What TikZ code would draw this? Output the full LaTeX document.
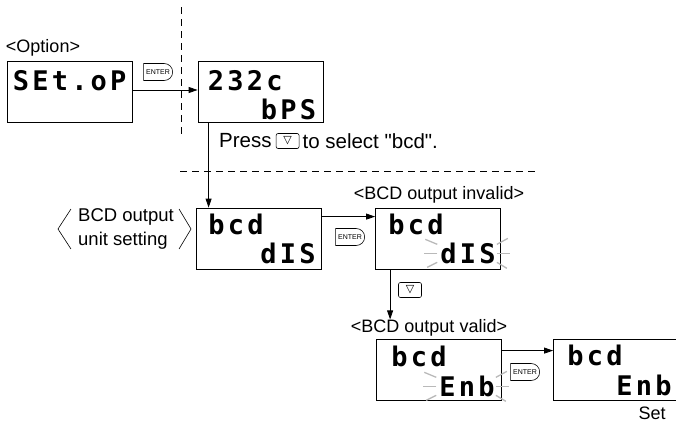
\documentclass[tikz,border=0pt]{standalone}
\usepackage{fontspec}
\setmainfont{Liberation Sans}
\newfontfamily\segfont{DejaVu Sans Mono}[LetterSpace=12]
\newfontfamily\symfont{DejaVu Sans}
\usetikzlibrary{shapes.misc, arrows.meta, positioning, calc}

\begin{document}
\begin{tikzpicture}[x=1pt, y=-1pt,
    display/.style={rectangle, draw, line width=0.8pt, minimum width=125pt, minimum height=61pt, inner sep=0pt},
    seg/.style={font=\segfont\bfseries\fontsize{27}{27}\selectfont, inner sep=0pt},
    label/.style={font=\fontsize{18}{21}\selectfont, inner sep=0pt},
    enterkey/.style={rounded rectangle, rounded rectangle west arc=none, draw, line width=0.6pt, minimum width=31pt, minimum height=17pt, inner sep=1pt, font=\fontsize{7}{7}\selectfont},
    downkey/.style={rectangle, draw, line width=0.6pt, rounded corners=2pt, minimum width=23pt, minimum height=15pt, inner sep=0pt, font=\symfont\fontsize{11}{11}\selectfont},
    arrow/.style={-{Triangle[length=9pt, width=6pt]}, line width=0.8pt},
    ray/.style={gray!55, line width=1.3pt},
    sep/.style={line width=0.7pt, dash pattern=on 7pt off 5pt}
]
\useasboundingbox (0,0) rectangle (676,423);

% Displays
\node[display] (setop) at (69.5,91.5) {};
\node[display] (baud) at (260.5,91.5) {};
\node[display] (bcddis) at (259,238.5) {};
\node[display] (bcdinv) at (438,238.5) {};
\node[display] (bcdval) at (439,369.5) {};
\node[display] (bcdset) at (616,369.5) {};

% Display texts
\node[seg, anchor=base west] (setop-hi) at ([shift={(6,30)}]setop.north west) {SEt.oP};
\node[seg, anchor=base west] (baud-hi) at ([shift={(10,30)}]baud.north west) {232c};
\node[seg, anchor=base east] (baud-lo) at ([shift={(-7,-3)}]baud.south east) {bPS};
\node[seg, anchor=base west] (dis-hi) at ([shift={(12,27)}]bcddis.north west) {bcd};
\node[seg, anchor=base east] (dis-lo) at ([shift={(-6,-6)}]bcddis.south east) {dIS};
\node[seg, anchor=base west] (inv-hi) at ([shift={(13,27)}]bcdinv.north west) {bcd};
\node[seg, anchor=base east] (inv-lo) at ([shift={(-5,-6)}]bcdinv.south east) {dIS};
\node[seg, anchor=base west] (val-hi) at ([shift={(15,28)}]bcdval.north west) {bcd};
\node[seg, anchor=base east] (val-lo) at ([shift={(-7,-4)}]bcdval.south east) {Enb};
\node[seg, anchor=base west] (set-hi) at ([shift={(14,27)}]bcdset.north west) {bcd};
\node[seg, anchor=base east] (set-lo) at ([shift={(-7,-5)}]bcdset.south east) {Enb};

% Blinking
\foreach \r in {inv-lo, val-lo} {
  \draw[ray] ([shift={(-3,-9)}]\r.west) -- ++(-12,-5);
  \draw[ray] ([shift={(-3,0)}]\r.west) -- ++(-13,0);
  \draw[ray] ([shift={(-3,9)}]\r.west) -- ++(-10,5);
  \draw[ray] ([shift={(1,-9)}]\r.east) -- ++(11,-6);
  \draw[ray] ([shift={(1,0)}]\r.east) -- ++(13,0);
  \draw[ray] ([shift={(1,9)}]\r.east) -- ++(10,6);
}

% Labels
\node[label] (option) at (43,48) {<Option>};
\node[label] (invalid) at (439,195) {<BCD output invalid>};
\node[label] (valid) at (429,328) {<BCD output valid>};
\node[label] (set) at (652,413) {Set};
\node[label, align=left, font=\fontsize{18.5}{24}\selectfont] (unit) at (126,229) {BCD output\\unit setting};
\draw[line width=0.6pt] ($(unit.west)+(-7,-20)$) -- ++(-13,20) -- ++(13,20);
\draw[line width=0.6pt] ($(unit.east)+(5,-20)$) -- ++(12,20) -- ++(-12,20);

\node[label, font=\fontsize{20.5}{23}\selectfont, anchor=west] (press) at (219,141) {Press};
\node[downkey, right=4pt of press] (presskey) {▽};
\node[label, font=\fontsize{20.5}{23}\selectfont, right=3pt of presskey] (select) {to select \textquotedbl bcd\textquotedbl.};

% Keys
\node[enterkey] (enter1) at (158,72) {ENTER};
\node[enterkey] (enter2) at (350,237) {ENTER};
\node[enterkey] (enter3) at (525,372) {ENTER};
\node[downkey] (down1) at (410,290) {▽};

% Separators
\draw[sep] (181,7) -- (181,137);
\draw[sep] (180,171) -- (535,171);

% Connections
\draw[arrow] ([yshift=1.5pt]setop.east) -- ([yshift=1.5pt]baud.west);
\draw[arrow] ([xshift=11pt]baud.south west) -- ([xshift=11pt]baud.south west |- bcddis.north);
\draw[arrow] ([yshift=-9pt]bcddis.north east) -- ([yshift=-9pt]bcddis.north east -| bcdinv.west);
\draw[arrow] ([xshift=15pt]bcdinv.south west) -- ([xshift=15pt]bcdinv.south west |- valid.north);
\draw[arrow] ([yshift=-12pt]bcdval.north east) -- ([yshift=-12pt]bcdval.north east -| bcdset.west);
\end{tikzpicture}
\end{document}
